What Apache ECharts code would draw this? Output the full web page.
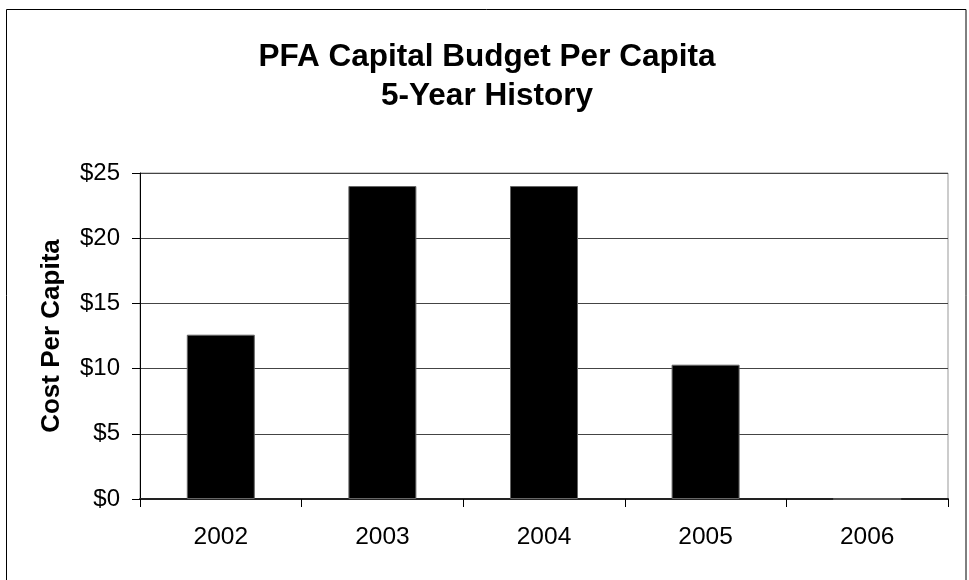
<!DOCTYPE html>
<html>
<head>
<meta charset="utf-8">
<script src="https://cdn.jsdelivr.net/npm/echarts@6/dist/echarts.min.js"></script>
<style>
  html, body { margin: 0; padding: 0; background: #fff; }
  #chart { width: 969px; height: 580px; }
</style>
</head>
<body>
<div id="chart"></div>
<script>
// Budget years and per-capita capital cost (dollars)
const years = ['2002', '2003', '2004', '2005', '2006'];
const costPerCapita = [12.6, 24.0, 24.0, 10.3, 0];
const yTicks = { min: 0, max: 25, step: 5 };

const chart = echarts.init(document.getElementById('chart'));
const font = 'Liberation Sans, Arial, sans-serif';

chart.setOption({
  animation: false,
  backgroundColor: '#fff',
  textStyle: { fontFamily: font },
  title: {
    text: 'PFA Capital Budget Per Capita\n5-Year History',
    left: 482,
    top: 33,
    textAlign: 'center',
    textStyle: { fontFamily: font, fontSize: 31.5, fontWeight: 'bold', color: '#000', lineHeight: 39 }
  },
  graphic: [{
    type: 'rect',
    shape: { x: 6.5, y: 9.5, width: 959.5, height: 600 },
    style: { fill: 'none', stroke: '#000', lineWidth: 1 },
    silent: true,
    z: 0
  }],
  grid: {
    left: 140, right: 21, top: 173, bottom: 81,
    show: true, borderColor: '#999', borderWidth: 1
  },
  xAxis: {
    type: 'category',
    data: years,
    axisLine: { lineStyle: { color: '#222', width: 2 } },
    axisTick: { show: true, length: 8, lineStyle: { color: '#000' } },
    axisLabel: { color: '#000', fontSize: 24.5, margin: 26, fontFamily: font },
    splitLine: { show: false }
  },
  yAxis: {
    type: 'value',
    min: yTicks.min,
    max: yTicks.max,
    interval: yTicks.step,
    name: 'Cost Per Capita',
    nameLocation: 'middle',
    nameGap: 75,
    nameTextStyle: { fontFamily: font, fontSize: 26, fontWeight: 'bold', color: '#000' },
    axisLine: { show: true, lineStyle: { color: '#000', width: 1 } },
    axisTick: { show: true, length: 8, lineStyle: { color: '#000' } },
    axisLabel: { color: '#000', fontSize: 24, margin: 20, fontFamily: font, formatter: v => '$' + v },
    splitLine: { show: true, lineStyle: { color: '#444', width: 1 } }
  },
  series: [{
    type: 'bar',
    data: costPerCapita,
    barWidth: 68,
    itemStyle: { color: '#000', borderColor: '#666', borderWidth: 1 }
  }]
});
</script>
</body>
</html>
